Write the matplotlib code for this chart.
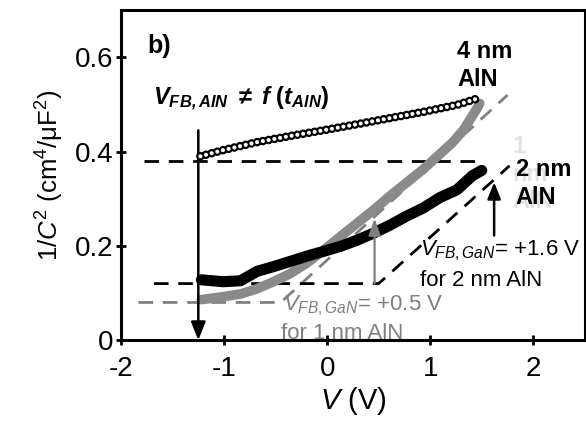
import numpy as np
import matplotlib
matplotlib.use("Agg")
import matplotlib.pyplot as plt

plt.rcParams['font.family'] = ['Liberation Sans', 'DejaVu Sans']
plt.rcParams['mathtext.fontset'] = 'custom'
plt.rcParams['mathtext.rm'] = 'Liberation Sans'
plt.rcParams['mathtext.it'] = 'Liberation Sans:italic'
plt.rcParams['mathtext.bf'] = 'Liberation Sans:bold'
plt.rcParams['mathtext.bfit'] = 'Liberation Sans:italic:bold'
plt.rcParams['axes.unicode_minus'] = False
plt.rcParams['lines.scale_dashes'] = False

# 4 nm AlN (open circles)
v_4nm = [-1.23, -1.01, -0.68, -0.36, -0.04, 0.29, 0.61, 0.93, 1.26, 1.45]
c_4nm = [0.390, 0.403, 0.420, 0.433, 0.445, 0.458, 0.471, 0.484, 0.499, 0.512]

# 2 nm AlN (black filled)
v_2nm = [-1.22, -1.01, -0.84, -0.68, -0.52, -0.36, -0.20, -0.04, 0.13, 0.29,
         0.45, 0.61, 0.77, 0.93, 1.09, 1.26, 1.41, 1.50]
c_2nm = [0.128, 0.124, 0.126, 0.146, 0.156, 0.167, 0.178, 0.188, 0.199, 0.212,
         0.227, 0.244, 0.263, 0.280, 0.302, 0.319, 0.349, 0.360]

# 1 nm AlN (grey filled)
v_1nm = [-1.22, -1.01, -0.84, -0.68, -0.52, -0.36, -0.20, -0.04, 0.13, 0.29,
         0.45, 0.61, 0.77, 0.93, 1.09, 1.22, 1.32, 1.45, 1.48]
c_1nm = [0.086, 0.092, 0.098, 0.109, 0.124, 0.141, 0.163, 0.190, 0.220, 0.248,
         0.276, 0.306, 0.334, 0.362, 0.394, 0.420, 0.445, 0.490, 0.502]

# guide lines
fit_top_v = [-1.78, 1.48]
fit_top_c = [0.38, 0.38]
fit_2nm_v = [-1.68, 0.50, 1.77]
fit_2nm_c = [0.12, 0.12, 0.37]
fit_1nm_v = [-1.83, -0.45, 1.75]
fit_1nm_c = [0.08, 0.08, 0.52]

grey = '#8a8a8a'

fig = plt.figure(figsize=(5.86, 4.21), dpi=100)
ax = fig.add_axes([0.2065, 0.192, 0.7915, 0.784])

ax.plot(fit_1nm_v, fit_1nm_c, color='#808080', lw=2.0, dashes=(10.5, 7), zorder=2)
ax.plot(fit_top_v, fit_top_c, color='black', lw=2.0, dashes=(10.5, 7), zorder=2)
ax.plot(fit_2nm_v, fit_2nm_c, color='black', lw=2.0, dashes=(10.5, 7), zorder=2)

ax.plot(v_1nm, c_1nm, color=grey, lw=7, solid_capstyle='round', zorder=3)
ax.plot(v_2nm, c_2nm, color='black', lw=8, solid_capstyle='round', zorder=4)

# open circles of the 4 nm curve
ax.plot(v_4nm, c_4nm, color='black', lw=6.2, dashes=(0.01, 4.2),
        dash_capstyle='round', zorder=6)
ax.plot(v_4nm, c_4nm, color='white', lw=3.0, dashes=(0.01, 4.2),
        dash_capstyle='round', zorder=7)

# arrows
ax.annotate('', xy=(-1.25, 0.0), xytext=(-1.25, 0.445),
            arrowprops=dict(arrowstyle='-|>,head_length=0.5,head_width=0.2',
                            color='black', lw=1.8, mutation_scale=22,
                            shrinkA=0, shrinkB=0), zorder=5)
ax.annotate('', xy=(0.46, 0.258), xytext=(0.46, 0.12),
            arrowprops=dict(arrowstyle='-|>,head_length=0.5,head_width=0.18',
                            color='#7f7f7f', lw=1.6, mutation_scale=20,
                            shrinkA=0, shrinkB=0), zorder=8)
ax.annotate('', xy=(1.62, 0.335), xytext=(1.62, 0.222),
            arrowprops=dict(arrowstyle='-|>,head_length=0.5,head_width=0.2',
                            color='black', lw=1.8, mutation_scale=20,
                            shrinkA=0, shrinkB=0), zorder=8)

# texts
ax.text(-1.74, 0.623, 'b)', fontsize=18, fontweight='bold', va='center')
ax.text(-1.69, 0.512,
        r'$\mathbfit{V}_{\mathbfit{FB,AlN}}\ \mathbf{\neq}\ \mathbfit{f}\ \mathbf{(}\mathbfit{t}_{\mathbfit{AlN}}\mathbf{)}$',
        fontsize=17, va='center')
ax.text(1.26, 0.583, '4 nm\nAlN', fontsize=17, fontweight='bold',
        va='center', ha='left', linespacing=1.25)
ax.text(1.80, 0.352, '1\nnm\nAlN', fontsize=17, fontweight='bold',
        color='#e2e2e2', va='center', ha='left', linespacing=1.25, zorder=1)
ax.text(1.83, 0.332, '2 nm\nAlN', fontsize=17, fontweight='bold',
        va='center', ha='left', linespacing=1.25, zorder=9)
ax.text(0.90, 0.19, r'$\mathit{V}_{\mathit{FB,GaN}}$= +1.6 V', fontsize=16,
        va='center', ha='left', zorder=9)
ax.text(0.90, 0.126, 'for 2 nm AlN', fontsize=16, va='center', ha='left', zorder=9)
ax.text(-0.43, 0.073, r'$\mathit{V}_{\mathit{FB,GaN}}$= +0.5 V', fontsize=16,
        color='#7f7f7f', va='center', ha='left', zorder=9)
ax.text(-0.45, 0.015, 'for 1 nm AlN', fontsize=16, color='#7f7f7f',
        va='center', ha='left', zorder=9)

ax.set_xlim(-2, 2.5)
ax.set_ylim(0, 0.7)
ax.set_xticks([-2, -1, 0, 1, 2])
ax.set_xticklabels(['-2', '-1', '0', '1', '2'])
ax.set_yticks([0, 0.2, 0.4, 0.6])
ax.set_yticklabels(['0', '0.2', '0.4', '0.6'])
ax.tick_params(direction='inout', length=7, width=2, labelsize=20)
ax.tick_params(axis='x', pad=8)
ax.tick_params(axis='y', pad=2)
for s in ax.spines.values():
    s.set_linewidth(2.2)

ax.set_xlabel(r'$\mathit{V}$ (V)', fontsize=21, labelpad=2)
ax.set_ylabel(r'1/$\mathit{C}^2$ (cm$^4$/μF$^2$)', fontsize=18.5, labelpad=6)

fig.savefig('out.png', dpi=100)
